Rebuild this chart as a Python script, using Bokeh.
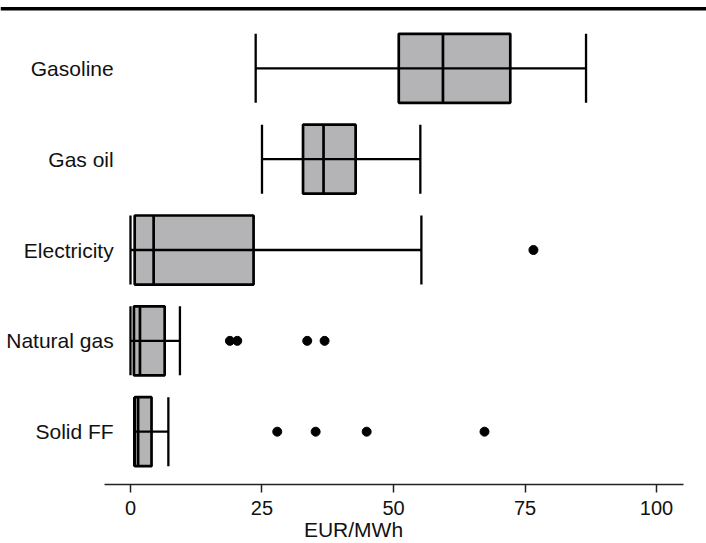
from bokeh.plotting import figure
from bokeh.models import Range1d, Span, FixedTicker, ColumnDataSource
from bokeh.core.properties import value
from bokeh.embed import file_html
from bokeh.resources import INLINE

# ---- data ----
categories = ["Gasoline", "Gas oil", "Electricity", "Natural gas", "Solid FF"]
whisker_low = [23.8, 25.0, 0.0, 0.0, 0.7]
q1 = [51.0, 32.8, 0.8, 0.65, 0.8]
median = [59.4, 36.7, 4.4, 1.8, 1.45]
q3 = [72.2, 42.8, 23.4, 6.5, 4.0]
whisker_high = [86.6, 55.1, 55.3, 9.4, 7.2]
outlier_cat = ["Electricity", "Natural gas", "Natural gas", "Natural gas", "Natural gas",
               "Solid FF", "Solid FF", "Solid FF", "Solid FF"]
outlier_val = [76.6, 18.9, 20.3, 33.6, 36.9, 27.9, 35.2, 44.9, 67.3]
x_ticks = [0, 25, 50, 75, 100]
x_label = "EUR/MWh"

# ---- layout helpers ----
n = len(categories)
ypos = {c: n - i for i, c in enumerate(categories)}
half = 0.38
FONT = "Liberation Sans"

ys = [ypos[c] for c in categories]
box_src = ColumnDataSource(dict(
    y=ys, lo=whisker_low, q1=q1, med=median, q3=q3, hi=whisker_high,
    yb=[y - half for y in ys], yt=[y + half for y in ys], cat=categories,
))
out_src = ColumnDataSource(dict(x=outlier_val, y=[ypos[c] for c in outlier_cat]))

p = figure(width=706, height=543, output_backend="svg", toolbar_location=None,
           x_range=Range1d(-24.71, 109.5), y_range=Range1d(0.4186, 5.7468),
           y_axis_location=None, min_border_left=0, min_border_right=0,
           min_border_top=0, outline_line_color=None)
p.xgrid.visible = False
p.ygrid.visible = False
p.background_fill_color = "white"
p.border_fill_color = "white"

# top rule
p.add_layout(Span(location=5.655, dimension="width", line_color="black", line_width=3.5))

GRAY = "#b4b4b6"
# boxes
p.quad(left="q1", right="q3", bottom="yb", top="yt", source=box_src,
       fill_color=GRAY, line_color=None)
# whisker line through everything
p.segment(x0="lo", y0="y", x1="hi", y1="y", source=box_src, line_color="black", line_width=2.3)
# caps
p.segment(x0="lo", y0="yb", x1="lo", y1="yt", source=box_src, line_color="black", line_width=2.3)
p.segment(x0="hi", y0="yb", x1="hi", y1="yt", source=box_src, line_color="black", line_width=2.3)
# box outline
p.quad(left="q1", right="q3", bottom="yb", top="yt", source=box_src,
       fill_color=None, line_color="black", line_width=2.7)
# median
p.segment(x0="med", y0="yb", x1="med", y1="yt", source=box_src, line_color="black", line_width=2.7)
# outliers
p.scatter(x="x", y="y", source=out_src, size=9, fill_color="black", line_color="black")

# category labels
p.text(x=-3.2, y="y", text="cat", source=box_src, text_align="right", text_baseline="middle",
       text_font=value(FONT), text_font_size="21px", text_color="#111111")

# x axis
ax = p.xaxis[0]
ax.ticker = FixedTicker(ticks=x_ticks)
ax.bounds = (-4.94, 105.1)
ax.axis_line_color = "#222222"
ax.axis_line_width = 1.5
ax.major_tick_line_color = "#222222"
ax.major_tick_line_width = 1.5
ax.major_tick_out = 8
ax.major_tick_in = 0
ax.minor_tick_line_color = None
ax.major_label_text_font = FONT
ax.major_label_text_font_size = "20px"
ax.major_label_text_color = "#111111"
ax.major_label_standoff = 8
ax.axis_label = x_label
ax.axis_label_text_font = FONT
ax.axis_label_text_font_size = "21px"
ax.axis_label_text_font_style = "normal"
ax.axis_label_text_color = "#111111"
ax.axis_label_standoff = 0

open("out.html", "w").write(file_html(p, INLINE))
